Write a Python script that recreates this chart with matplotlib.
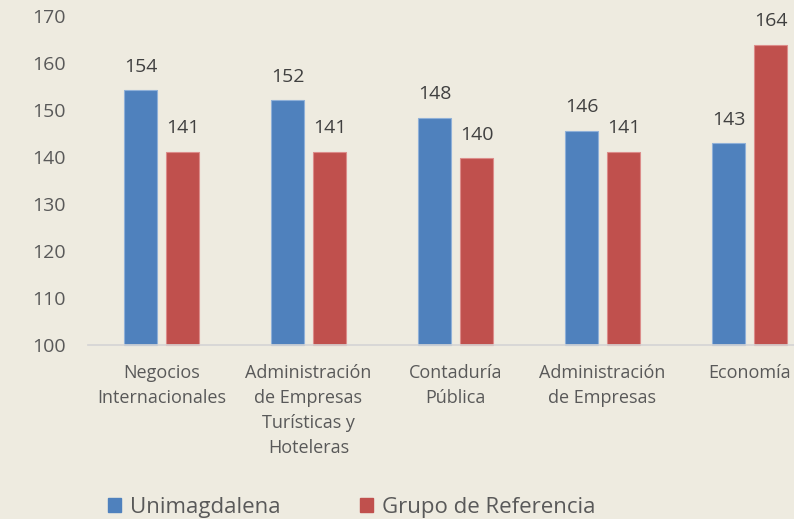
import matplotlib
matplotlib.use("Agg")
import matplotlib.pyplot as plt
import numpy as np
from matplotlib.patches import Patch

categories = ["Negocios\nInternacionales", "Administración\nde Empresas\nTurísticas y\nHoteleras",
              "Contaduría\nPública", "Administración\nde Empresas", "Economía"]
unimagdalena = [154.2, 152.1, 148.3, 145.6, 142.9]
referencia = [141.1, 141.1, 139.7, 141.1, 163.9]
uni_labels = [154, 152, 148, 146, 143]
ref_labels = [141, 141, 140, 141, 164]
yticks = [100, 110, 120, 130, 140, 150, 160, 170]

BG = "#eeebe0"
BLUE = "#4f81bd"
RED = "#c0504d"
TXT = "#595959"

plt.rcParams['font.family'] = ['Open Sans', 'DejaVu Sans']

fig = plt.figure(figsize=(7.94, 5.19), dpi=100, facecolor=BG)
W, H = 794, 519
left, right = 88, 823
bottom_px, top_px = 345, 16
ax = fig.add_axes([left / W, (H - bottom_px) / H, (right - left) / W, (bottom_px - top_px) / H])
ax.set_facecolor(BG)

x = np.arange(len(categories))
bw = 33 / 147
off = 21 / 147
ax.bar(x - off, [v - 100 for v in unimagdalena], bw, bottom=100, color=BLUE,
       edgecolor="#8fb0d8", linewidth=0.8, clip_on=False)
ax.bar(x + off, [v - 100 for v in referencia], bw, bottom=100, color=RED,
       edgecolor="#dc8c8a", linewidth=0.8, clip_on=False)

for xs, vals, labs in [(x - off, unimagdalena, uni_labels), (x + off, referencia, ref_labels)]:
    for xi, v, l in zip(xs, vals, labs):
        ax.annotate(str(l), (xi, v), xytext=(0, 10.5), textcoords="offset points",
                    ha="center", va="bottom", fontsize=14, color="#404040",
                    annotation_clip=False)

ax.set_xlim(-0.5, len(categories) - 0.5)
ax.set_ylim(100, 170)
ax.set_yticks(yticks)
ax.set_yticklabels([str(t) for t in yticks], fontsize=14, color=TXT)
ax.tick_params(axis="y", length=0, pad=16)
ax.set_xticks(x)
ax.set_xticklabels(categories, fontsize=13, color=TXT, linespacing=1.5)
ax.tick_params(axis="x", length=0, pad=14)
for s in ["top", "right", "left"]:
    ax.spines[s].set_visible(False)
ax.spines["bottom"].set_color("#d4d4d4")
ax.spines["bottom"].set_linewidth(1.2)

handles = [Patch(facecolor=BLUE, edgecolor=BLUE), Patch(facecolor=RED, edgecolor=RED)]
fig.legend(handles, ["Unimagdalena", "Grupo de Referencia"], loc="center left",
           bbox_to_anchor=(108 / W, 1 - 507 / H), ncol=2, frameon=False,
           fontsize=16, labelcolor=TXT, handlelength=0.6, handleheight=0.6,
           handletextpad=0.4, columnspacing=3.55, borderpad=0, borderaxespad=0)

fig.savefig("out.png", dpi=100, facecolor=BG)
